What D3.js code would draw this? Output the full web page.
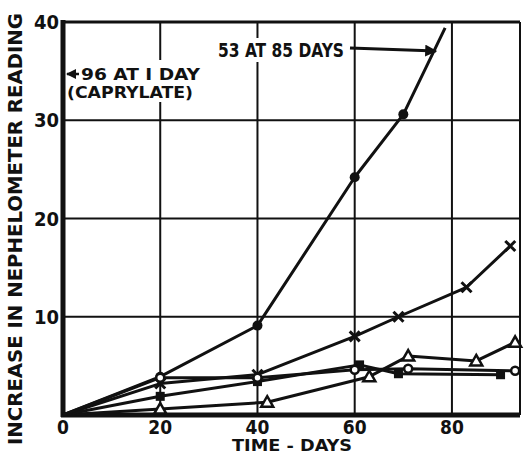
<!DOCTYPE html>
<html>
<head>
<meta charset="utf-8">
<script src="https://cdn.jsdelivr.net/npm/d3@7"></script>
<style>
  body { margin: 0; background: #fff; }
  text { font-family: "DejaVu Sans Condensed", "Liberation Sans Narrow", sans-serif; font-weight: bold; fill: #111; }
</style>
</head>
<body>
<script>
// ticks
var xTicks = [0, 20, 40, 60, 80];
var yTicks = [10, 20, 30, 40];

// filled circles (runs off the top, 53 at 85 days)
var daysA = [0, 20, 40, 60, 70, 78.6];
var valsA = [0, 3.9, 9.1, 24.2, 30.6, 39.4];
// crosses
var daysB = [0, 20, 40, 60, 69, 83, 92];
var valsB = [0, 3.2, 4.1, 8.0, 10.0, 13.0, 17.2];
// triangles
var daysC = [0, 20, 42, 63, 71, 85, 93];
var valsC = [0, 0.6, 1.3, 3.9, 6.0, 5.5, 7.4];
// squares
var daysD = [0, 20, 40, 61, 69, 90];
var valsD = [0, 1.9, 3.4, 5.1, 4.2, 4.1];
// open circles
var daysE = [0, 20, 40, 60, 71, 93];
var valsE = [0, 3.8, 3.8, 4.6, 4.7, 4.5];

var width = 525, height = 457;
var ink = "#111";

var x = d3.scaleLinear().domain([0, 94]).range([63, 520]);
var y = d3.scaleLinear().domain([0, 40]).range([415, 22]);

var svg = d3.select("body").append("svg")
    .attr("width", width)
    .attr("height", height)
    .style("display", "block");

// grid
svg.append("g").selectAll("line")
    .data(xTicks.slice(1))
    .join("line")
    .attr("x1", d => x(d)).attr("x2", d => x(d))
    .attr("y1", y(40)).attr("y2", y(0))
    .attr("stroke", ink).attr("stroke-width", 2);

svg.append("g").selectAll("line")
    .data(yTicks.slice(0, 3))
    .join("line")
    .attr("x1", x(0)).attr("x2", x(94))
    .attr("y1", d => y(d)).attr("y2", d => y(d))
    .attr("stroke", ink).attr("stroke-width", 2);

// frame
svg.append("line").attr("x1", x(0)).attr("x2", x(94)).attr("y1", y(40)).attr("y2", y(40))
    .attr("stroke", ink).attr("stroke-width", 3);
svg.append("line").attr("x1", x(94)).attr("x2", x(94)).attr("y1", y(40)).attr("y2", y(0))
    .attr("stroke", ink).attr("stroke-width", 2);
svg.append("line").attr("x1", x(0)).attr("x2", x(0)).attr("y1", y(40) - 2).attr("y2", y(0) + 2)
    .attr("stroke", ink).attr("stroke-width", 5);
svg.append("line").attr("x1", x(0) - 2).attr("x2", x(94)).attr("y1", y(0)).attr("y2", y(0))
    .attr("stroke", ink).attr("stroke-width", 5);

// tick labels
svg.append("g").selectAll("text")
    .data(xTicks)
    .join("text")
    .attr("x", d => x(d))
    .attr("y", 434)
    .attr("text-anchor", "middle")
    .style("font-size", "19px")
    .text(d => d);

svg.append("g").selectAll("text")
    .data(yTicks)
    .join("text")
    .attr("x", 59)
    .attr("y", d => y(d) + 7)
    .attr("text-anchor", "end")
    .style("font-size", "20px")
    .text(d => d);

// axis titles
svg.append("text")
    .attr("transform", "translate(22,229) rotate(-90)")
    .attr("text-anchor", "middle")
    .attr("textLength", 432)
    .attr("lengthAdjust", "spacingAndGlyphs")
    .style("font-size", "19px")
    .text("INCREASE IN NEPHELOMETER READING");

svg.append("text")
    .attr("x", 232).attr("y", 451)
    .attr("textLength", 120)
    .attr("lengthAdjust", "spacingAndGlyphs")
    .style("font-size", "15px")
    .text("TIME - DAYS");

// annotations, white behind them to break the grid
svg.append("rect").attr("x", 214).attr("y", 38).attr("width", 134).attr("height", 24).attr("fill", "#fff");
svg.append("rect").attr("x", 150).attr("y", 60).attr("width", 54).attr("height", 42).attr("fill", "#fff");

svg.append("text")
    .attr("x", 218).attr("y", 57)
    .attr("textLength", 126)
    .attr("lengthAdjust", "spacingAndGlyphs")
    .style("font-size", "20px")
    .text("53 AT 85 DAYS");

svg.append("text")
    .attr("x", 81).attr("y", 80)
    .attr("textLength", 119)
    .attr("lengthAdjust", "spacingAndGlyphs")
    .style("font-size", "15px")
    .text("96 AT I DAY");

svg.append("text")
    .attr("x", 67).attr("y", 98)
    .attr("textLength", 126)
    .attr("lengthAdjust", "spacingAndGlyphs")
    .style("font-size", "15px")
    .text("(CAPRYLATE)");

svg.append("defs").append("marker")
    .attr("id", "head")
    .attr("viewBox", "0 0 10 10")
    .attr("refX", 9).attr("refY", 5)
    .attr("markerWidth", 4).attr("markerHeight", 4)
    .attr("orient", "auto")
    .append("path").attr("d", "M0,0L10,5L0,10z").attr("fill", ink);

svg.append("line").attr("x1", 350).attr("y1", 48).attr("x2", 436).attr("y2", 51)
    .attr("stroke", ink).attr("stroke-width", 3).attr("marker-end", "url(#head)");
svg.append("line").attr("x1", 79).attr("y1", 74).attr("x2", 67).attr("y2", 74)
    .attr("stroke", ink).attr("stroke-width", 2.5).attr("marker-end", "url(#head)");

// series
var series = [
  { days: daysA, vals: valsA, mark: "dot", skipLast: true },
  { days: daysB, vals: valsB, mark: "cross" },
  { days: daysC, vals: valsC, mark: "tri" },
  { days: daysD, vals: valsD, mark: "square" },
  { days: daysE, vals: valsE, mark: "ring" }
];

var line = d3.line().x(d => x(d[0])).y(d => y(d[1]));

series.forEach(s => {
  var pts = s.days.map((d, i) => [d, s.vals[i]]);
  svg.append("path")
      .attr("d", line(pts))
      .attr("fill", "none")
      .attr("stroke", ink)
      .attr("stroke-width", 3)
      .attr("stroke-linejoin", "round");

  var marked = pts.slice(1, s.skipLast ? -1 : undefined);
  var g = svg.append("g").selectAll("g")
      .data(marked)
      .join("g")
      .attr("transform", d => `translate(${x(d[0])},${y(d[1])})`);

  if (s.mark === "dot") g.append("circle").attr("r", 5).attr("fill", ink);
  if (s.mark === "ring") g.append("circle").attr("r", 4).attr("fill", "#fff").attr("stroke", ink).attr("stroke-width", 2.5);
  if (s.mark === "square") g.append("rect").attr("x", -4.5).attr("y", -4.5).attr("width", 9).attr("height", 9).attr("fill", ink);
  if (s.mark === "tri") g.append("path").attr("d", "M0,-6L6,4.5L-6,4.5Z").attr("fill", "#fff").attr("stroke", ink).attr("stroke-width", 2.5);
  if (s.mark === "cross") g.append("path").attr("d", "M-5,-5L5,5M-5,5L5,-5").attr("stroke", ink).attr("stroke-width", 3);
});
</script>
</body>
</html>
